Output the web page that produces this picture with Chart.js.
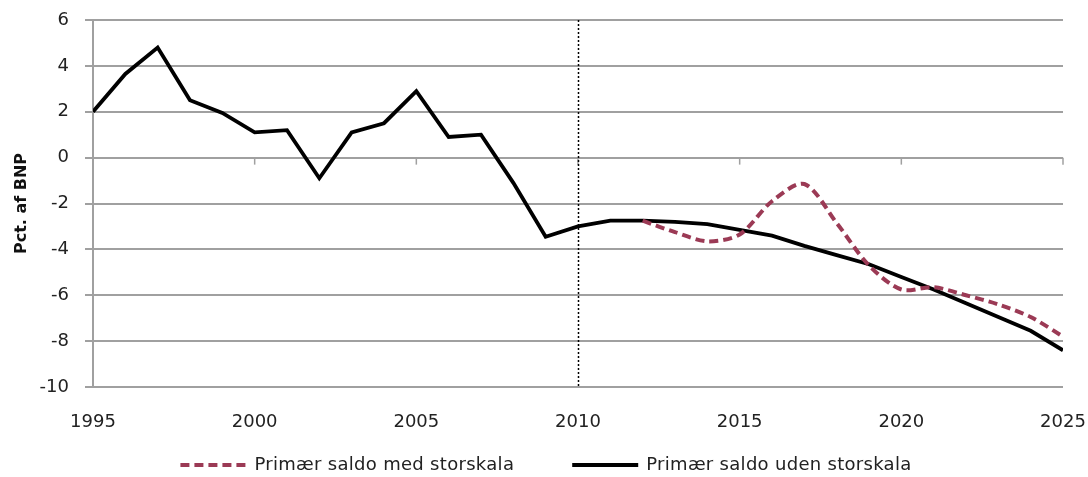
<!DOCTYPE html>
<html>
<head>
<meta charset="utf-8">
<script src="https://cdn.jsdelivr.net/npm/chart.js@4/dist/chart.umd.min.js"></script>
<style>
  html, body { margin: 0; padding: 0; background: #fff; }
  #wrap { width: 1088px; height: 477px; }
</style>
</head>
<body>
<div id="wrap"><canvas id="LineChart"></canvas></div>
<script>
var years = [1995, 1996, 1997, 1998, 1999, 2000, 2001, 2002, 2003, 2004, 2005,
             2006, 2007, 2008, 2009, 2010, 2011, 2012, 2013, 2014, 2015,
             2016, 2017, 2018, 2019, 2020, 2021, 2022, 2023, 2024, 2025];
var udenStorskala = [2.0, 3.65, 4.8, 2.5, 1.95, 1.1, 1.2, -0.9, 1.1, 1.5, 2.9,
                     0.9, 1.0, -1.1, -3.45, -3.0, -2.75, -2.75, -2.8, -2.9, -3.15,
                     -3.4, -3.85, -4.25, -4.65, -5.2, -5.75, -6.35, -6.95, -7.55, -8.4];
var medStorskala = [null, null, null, null, null, null, null, null, null, null, null,
                    null, null, null, null, null, null, -2.75, -3.25, -3.65, -3.35,
                    -1.9, -1.15, -2.85, -4.7, -5.75, -5.65, -6.0, -6.4, -6.95, -7.8];
var seriesNames = ["Primær saldo med storskala", "Primær saldo uden storskala"];
var yTicks = [6, 4, 2, 0, -2, -4, -6, -8, -10];
var markerYear = 2010;

function toPoints(vals) {
  return years.map(function (yr, i) { return { x: yr, y: vals[i] }; });
}

// dotted line at 2010, small ticks on the zero line, and the legend row
var extras = {
  id: 'extras',
  afterDatasetsDraw: function (chart) {
    var c = chart.ctx, xs = chart.scales.x, ys = chart.scales.y, a = chart.chartArea;
    var y0 = ys.getPixelForValue(0);
    c.save();
    c.strokeStyle = '#a0a0a0';
    c.lineWidth = 1.5;
    [2000, 2005, 2010, 2015, 2020, 2025].forEach(function (yr) {
      var px = xs.getPixelForValue(yr);
      c.beginPath(); c.moveTo(px, y0); c.lineTo(px, y0 + 7); c.stroke();
    });
    var x = Math.round(xs.getPixelForValue(markerYear)) + 0.5;
    c.strokeStyle = '#000';
    c.lineWidth = 1.5;
    c.setLineDash([2, 2]);
    c.beginPath(); c.moveTo(x, a.top); c.lineTo(x, a.bottom); c.stroke();
    c.setLineDash([]);

    // legend
    c.font = '18px "DejaVu Sans"';
    c.letterSpacing = '0.3px';
    c.textBaseline = 'middle';
    c.fillStyle = '#222';
    var sample = 66, gapText = 8, gapItem = 58, ly = 465;
    var ds = chart.data.datasets;
    var widths = ds.map(function (d) { return sample + gapText + c.measureText(d.label).width; });
    var total = widths[0] + gapItem + widths[1];
    var lx = chart.width / 2 - total / 2 + 2;
    ds.forEach(function (d, i) {
      c.strokeStyle = d.borderColor;
      c.lineWidth = d.borderWidth;
      c.setLineDash(d.borderDash || []);
      c.beginPath(); c.moveTo(lx, ly); c.lineTo(lx + sample, ly); c.stroke();
      c.setLineDash([]);
      c.fillText(d.label, lx + sample + gapText, ly);
      lx += widths[i] + gapItem;
    });
    c.restore();
  }
};

var ctx = document.getElementById("LineChart").getContext('2d');
var myChart = new Chart(ctx, {
  type: 'line',
  data: {
    datasets: [{
      label: seriesNames[0],
      data: toPoints(medStorskala),
      borderColor: '#9b3a55',
      backgroundColor: '#9b3a55',
      borderWidth: 4,
      borderDash: [9, 5],
      tension: 0.3,
      pointRadius: 0
    }, {
      label: seriesNames[1],
      data: toPoints(udenStorskala),
      borderColor: '#000',
      backgroundColor: '#000',
      borderWidth: 3.8,
      tension: 0,
      pointRadius: 0
    }]
  },
  plugins: [extras],
  options: {
    responsive: true,
    maintainAspectRatio: false,
    animation: false,
    layout: { padding: { top: 20, right: 25, bottom: 0, left: 0 } },
    plugins: {
      tooltip: { enabled: false },
      legend: { display: false }
    },
    scales: {
      x: {
        type: 'linear',
        min: 1995,
        max: 2025,
        grid: { display: false },
        border: { display: false },
        ticks: {
          stepSize: 5,
          padding: 17,
          maxRotation: 0,
          color: '#222',
          font: { family: 'DejaVu Sans', size: 18 },
          callback: function (v) { return String(v); }
        },
        afterFit: function (s) { s.height = 90; s.paddingLeft = 0; s.paddingRight = 0; }
      },
      y: {
        min: -10,
        max: 6,
        afterBuildTicks: function (s) { s.ticks = yTicks.map(function (v) { return { value: v }; }); },
        grid: { color: '#a0a0a0', lineWidth: 2, tickLength: 8 },
        border: { color: '#a0a0a0', width: 2 },
        ticks: {
          padding: 16,
          color: '#222',
          font: { family: 'DejaVu Sans', size: 18 }
        },
        title: {
          display: true,
          text: 'Pct. af BNP',
          color: '#111',
          padding: { top: 12, bottom: 0 },
          font: { family: 'DejaVu Sans', size: 16, weight: 'bold' }
        },
        afterFit: function (s) { s.width = 93; s.paddingTop = 0; s.paddingBottom = 0; }
      }
    }
  }
});
</script>
</body>
</html>
